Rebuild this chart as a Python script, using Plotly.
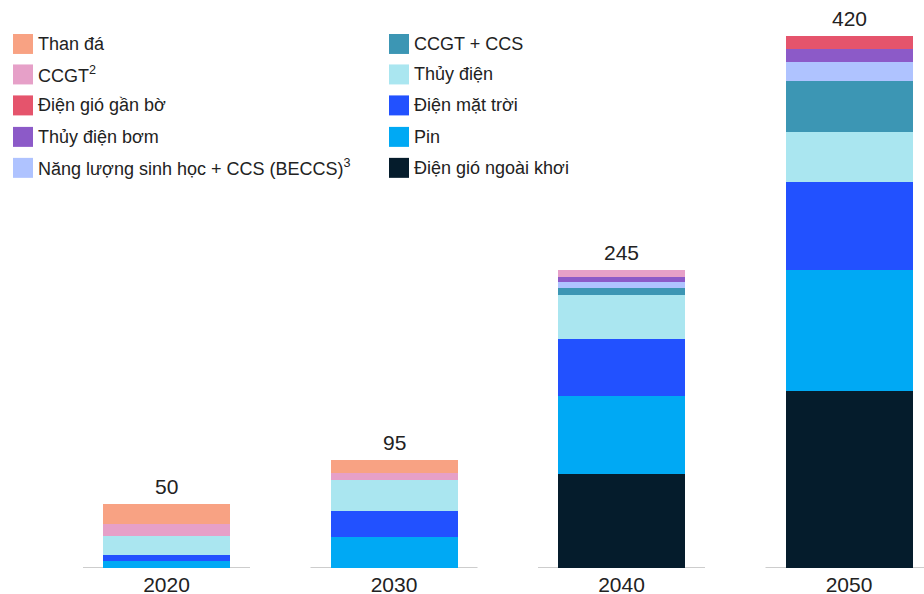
import plotly.graph_objects as go

# ---- data ----
years = ["2020", "2030", "2040", "2050"]
totals = ["50", "95", "245", "420"]

# series listed bottom of stack -> top of stack
series_names = [
    "Điện gió ngoài khơi",
    "Pin",
    "Điện mặt trời",
    "Thủy điện",
    "CCGT + CCS",
    "Năng lượng sinh học + CCS (BECCS)<sup>3</sup>",
    "Thủy điện bơm",
    "Điện gió gần bờ",
    "CCGT<sup>2</sup>",
    "Than đá",
]
offshore_wind = [0, 0, 74.5, 139.5]
battery = [5.5, 24.5, 61, 95.5]
solar = [4.5, 20.5, 45, 70]
hydro = [15, 24.5, 35, 39.5]
ccgt_ccs = [0, 0, 5.5, 40]
beccs = [0, 0, 4.5, 15]
pumped_hydro = [0, 0, 4.5, 10]
onshore_wind = [0, 0, 0, 10.5]
ccgt = [9.5, 5.5, 5.5, 0]
coal = [16, 10, 0, 0]
series_values = [offshore_wind, battery, solar, hydro, ccgt_ccs, beccs,
                 pumped_hydro, onshore_wind, ccgt, coal]

colors = ["#051C2C", "#00A9F4", "#2251FF", "#AAE6F0", "#3C96B4",
          "#AFC3FF", "#8C5AC8", "#E5546C", "#E6A0C8", "#F8A283"]

# ---- layout geometry (pixels) ----
W, H = 924, 594
BASE_PX = 568.5
TOP_PX = 10
PX_PER_UNIT = 1.268
Y_MAX = (BASE_PX - TOP_PX) / PX_PER_UNIT
X_PX0 = 166.5
X_STEP = 227.5
x_r0 = -X_PX0 / X_STEP
x_r1 = x_r0 + W / X_STEP
BAR_W = 127 / X_STEP

FONT = "Liberation Sans, Arial, sans-serif"
TXT = "#222222"

fig = go.Figure()
for name, vals, col in zip(series_names, series_values, colors):
    fig.add_trace(go.Bar(
        x=years, y=vals, name=name, width=BAR_W,
        marker=dict(color=col, line=dict(width=0)),
        showlegend=False, hoverinfo="x+y+name",
    ))

shapes = []
annotations = []

# baseline segments under each bar
ext = BAR_W / 2 + 20 / X_STEP
for i, _ in enumerate(years):
    shapes.append(dict(type="line", xref="x", yref="y",
                       x0=i - ext, x1=i + ext, y0=0, y1=0,
                       line=dict(color="#BDBDBD", width=1.5), layer="below"))

# totals above bars
for i, lab in enumerate(totals):
    top = sum(v[i] for v in series_values)
    annotations.append(dict(x=i, y=top, xref="x", yref="y", text=lab,
                            showarrow=False, yanchor="bottom", yshift=4,
                            font=dict(family=FONT, size=21, color=TXT)))

# custom legend (two columns, top of stack first)
plot_h = BASE_PX - TOP_PX
def px_to_paper_x(px):
    return px / W
def px_to_paper_y(py):
    return (BASE_PX - py) / plot_h

legend_order = list(range(len(series_names)))[::-1]
col_x = [13, 389]
row_y = [44, 74.5, 105.5, 137, 168]
for k, idx in enumerate(legend_order):
    c = k // 5
    r = k % 5
    x0 = col_x[c]
    yc = row_y[r]
    shapes.append(dict(type="rect", xref="paper", yref="paper",
                       x0=px_to_paper_x(x0), x1=px_to_paper_x(x0 + 20),
                       y0=px_to_paper_y(yc + 10), y1=px_to_paper_y(yc - 10),
                       fillcolor=colors[idx], line=dict(width=0)))
    annotations.append(dict(x=px_to_paper_x(x0 + 23), y=px_to_paper_y(yc),
                            xref="paper", yref="paper", text=series_names[idx],
                            showarrow=False, xanchor="left", yanchor="middle",
                            font=dict(family=FONT, size=18, color=TXT)))

fig.update_layout(
    width=W, height=H,
    barmode="stack",
    paper_bgcolor="white", plot_bgcolor="white",
    margin=dict(l=0, r=0, t=TOP_PX, b=H - BASE_PX, autoexpand=False),
    showlegend=False,
    xaxis=dict(type="category", range=[x_r0, x_r1], showgrid=False,
               zeroline=False, showline=False, ticks="", automargin=False,
               ticklabelstandoff=2,
               tickfont=dict(family=FONT, size=21, color=TXT)),
    yaxis=dict(range=[0, Y_MAX], visible=False, showgrid=False,
               zeroline=False, fixedrange=True),
    shapes=shapes,
    annotations=annotations,
    font=dict(family=FONT, color=TXT),
)

fig.write_html("out.html",
               config={"displayModeBar": False},
               post_script="document.body.style.margin='0';document.body.style.overflow='hidden';")
